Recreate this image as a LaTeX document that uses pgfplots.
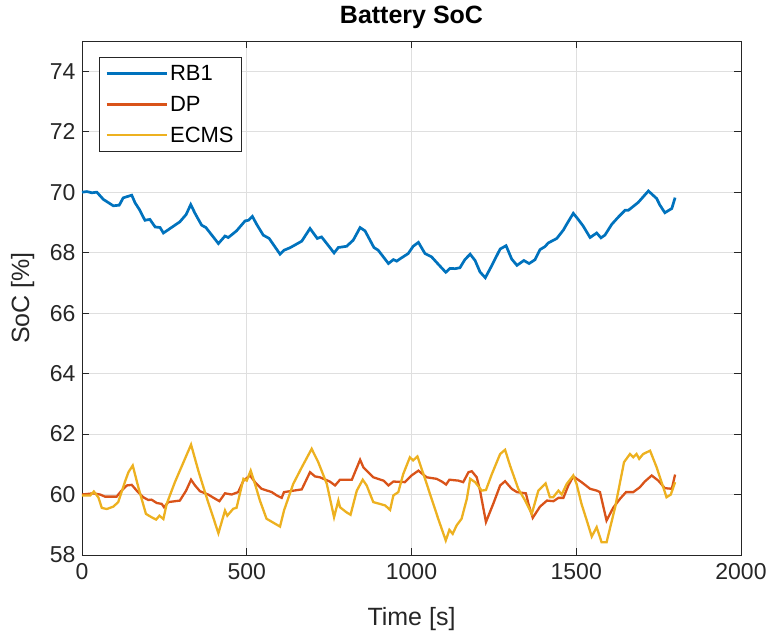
\documentclass[border=0pt]{standalone}
\usepackage{fontspec}
\setmainfont{Liberation Sans}
\usepackage{pgfplots}
\pgfplotsset{compat=1.18}

\definecolor{mblue}{rgb}{0,0.447,0.741}
\definecolor{mred}{rgb}{0.85,0.325,0.098}
\definecolor{myellow}{rgb}{0.929,0.694,0.125}
\definecolor{axgray}{rgb}{0.15,0.15,0.15}

\begin{document}
\begin{tikzpicture}
\begin{axis}[
  name=ax,
  scale only axis, width=659pt, height=514pt,
  xmin=0, xmax=2000, ymin=58, ymax=75,
  xtick={0,500,1000,1500,2000}, ytick={58,60,...,74},
  /pgf/number format/assume math mode=true,
  /pgf/number format/set thousands separator={},
  tick label style={font=\fontsize{23}{27}\selectfont, color=axgray},
  xticklabel style={yshift=-5pt},
  yticklabel style={xshift=-3pt},
  title style={font=\fontsize{25}{30}\selectfont\bfseries,
    at={(axis description cs:0.5,1.0233)}, anchor=base},
  xlabel style={font=\fontsize{25}{30}\selectfont, color=axgray,
    at={(axis description cs:0.5,-0.137)}, anchor=base},
  ylabel style={font=\fontsize{25}{30}\selectfont, color=axgray,
    at={(axis description cs:-0.09,0.5)}, anchor=center},
  title={Battery SoC},
  xlabel={Time [s]}, ylabel={SoC [\%]},
  axis line style={axgray, line width=0.8pt},
  tick style={axgray, line width=0.8pt},
  tick align=inside, major tick length=7pt,
  grid=major, grid style={gray!25, line width=0.8pt},
  legend style={at={(0,1)}, anchor=north west, xshift=17pt, yshift=-16pt,
    draw=axgray, line width=0.8pt, font=\fontsize{22}{26}\selectfont,
    row sep=10pt, inner sep=6pt},
  legend cell align=left,
  legend image code/.code={\draw[#1] (0pt,0pt) -- (60pt,0pt);},
]
\addplot[mblue, line width=2.7pt] coordinates {
(0,70.0) (15,70.02) (30,69.98) (45,70.0) (65,69.76) (95,69.55) (113,69.57) (125,69.81)
(136,69.85) (151,69.9) (161,69.65) (174,69.43) (191,69.07) (206,69.1) (222,68.85)
(237,68.83) (247,68.65) (262,68.76) (297,69.02) (316,69.26) (330,69.59) (343,69.3)
(363,68.91) (376,68.83) (394,68.58) (414,68.3) (434,68.55) (444,68.5) (469,68.72)
(495,69.05) (505,69.07) (517,69.2) (530,68.94) (550,68.58) (568,68.47) (601,67.95)
(613,68.08) (631,68.16) (667,68.38) (692,68.8) (714,68.47) (727,68.52) (743,68.3)
(765,67.99) (778,68.17) (803,68.21) (823,68.41) (844,68.83) (859,68.72) (886,68.17)
(899,68.08) (930,67.64) (945,67.77) (955,67.72) (970,67.83) (990,67.97) (1005,68.21)
(1021,68.34) (1041,67.97) (1061,67.86) (1081,67.62) (1104,67.35) (1117,67.48)
(1132,67.47) (1147,67.5) (1162,67.77) (1178,67.95) (1193,67.74) (1208,67.36)
(1224,67.17) (1244,67.58) (1269,68.12) (1287,68.23) (1304,67.79) (1320,67.58)
(1341,67.74) (1357,67.64) (1375,67.77) (1390,68.1) (1405,68.2) (1415,68.32)
(1441,68.47) (1461,68.75) (1471,68.94) (1491,69.3) (1506,69.1) (1521,68.88)
(1542,68.5) (1562,68.65) (1575,68.49) (1587,68.58) (1608,68.94) (1628,69.18)
(1648,69.4) (1658,69.4) (1688,69.66) (1719,70.04) (1744,69.79) (1754,69.57)
(1769,69.32) (1790,69.46) (1800,69.82)
};
\addplot[mred, line width=2.3pt] coordinates {
(0,60.0) (34,60.04) (55,60.0) (70,59.93) (105,59.93) (120,60.13) (136,60.3) (151,60.32)
(166,60.13) (186,59.91) (201,59.82) (211,59.83) (227,59.72) (242,59.69) (249,59.58)
(262,59.75) (297,59.8) (316,60.13) (331,60.49) (343,60.3) (358,60.11) (383,60.0)
(398,59.9) (417,59.78) (434,60.04) (454,60.0) (474,60.08) (490,60.46) (510,60.63)
(525,60.41) (545,60.19) (576,60.08) (591,59.97) (606,59.89) (613,60.08) (631,60.11)
(667,60.17) (692,60.74) (707,60.6) (722,60.57) (752,60.43) (768,60.3) (783,60.49)
(819,60.49) (844,61.15) (854,60.9) (884,60.57) (915,60.46) (930,60.3) (945,60.43)
(980,60.41) (1000,60.63) (1021,60.79) (1046,60.57) (1076,60.52) (1092,60.43)
(1105,60.33) (1115,60.49) (1142,60.46) (1157,60.41) (1173,60.74) (1183,60.77)
(1198,60.57) (1208,60.13) (1226,59.09) (1248,59.69) (1269,60.3) (1284,60.44)
(1304,60.19) (1320,60.08) (1347,60.04) (1355,59.69) (1368,59.23) (1390,59.6)
(1411,59.8) (1431,59.78) (1446,59.89) (1461,59.89) (1476,60.3) (1491,60.6)
(1516,60.41) (1542,60.19) (1562,60.13) (1572,60.08) (1592,59.14) (1612,59.56)
(1633,59.86) (1651,60.08) (1673,60.08) (1693,60.24) (1708,60.43) (1729,60.63)
(1749,60.46) (1769,60.21) (1790,60.19) (1800,60.66)
};
\addplot[myellow, line width=2.3pt] coordinates {
(0,59.97) (25,59.97) (36,60.1) (50,59.9) (60,59.56) (75,59.52) (95,59.6) (110,59.75)
(130,60.41) (141,60.74) (154,60.96) (171,60.24) (194,59.36) (211,59.25) (225,59.17)
(235,59.3) (247,59.19) (257,59.69) (282,60.41) (297,60.79) (331,61.65) (353,60.79)
(378,59.91) (414,58.72) (434,59.47) (441,59.3) (459,59.53) (469,59.56) (490,60.52)
(500,60.46) (512,60.79) (525,60.35) (540,59.8) (560,59.2) (601,58.94) (613,59.47)
(641,60.35) (667,60.9) (697,61.51) (717,61.07) (743,60.35) (765,59.25) (778,59.8)
(783,59.58) (803,59.41) (815,59.33) (834,60.13) (852,60.49) (864,60.3) (884,59.75)
(920,59.64) (935,59.49) (945,59.97) (960,60.08) (975,60.68) (995,61.23) (1005,61.13)
(1018,61.26) (1041,60.52) (1061,59.86) (1081,59.2) (1104,58.48) (1115,58.83)
(1125,58.7) (1137,58.98) (1152,59.2) (1168,59.86) (1178,60.52) (1193,60.41)
(1213,60.13) (1226,60.15) (1244,60.68) (1269,61.34) (1284,61.48) (1299,60.96)
(1324,60.19) (1345,59.8) (1365,59.36) (1385,60.13) (1407,60.37) (1420,59.91)
(1430,59.91) (1446,60.13) (1456,60.0) (1471,60.35) (1491,60.63) (1501,60.35)
(1516,59.69) (1532,59.14) (1547,58.61) (1562,58.92) (1577,58.42) (1592,58.42)
(1618,59.58) (1645,61.07) (1663,61.34) (1673,61.23) (1683,61.34) (1691,61.18)
(1703,61.34) (1724,61.45) (1744,60.9) (1774,59.91) (1787,60.0) (1800,60.41)
};
\legend{RB1,DP,ECMS}
\end{axis}
% white margins as in the reference export
\path (ax.south west) ++(-82pt,-80pt);
\path (ax.north east) ++(33pt,41pt);
\end{tikzpicture}
\end{document}
